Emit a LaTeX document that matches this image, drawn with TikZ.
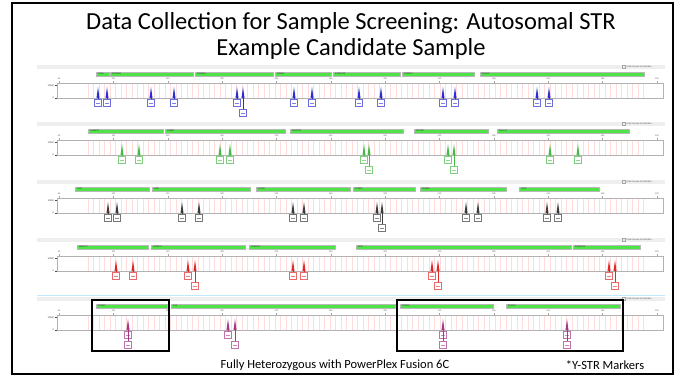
\documentclass[tikz,border=0pt]{standalone}
\usepackage{fontspec}
\setmainfont{Carlito}
\definecolor{barg}{RGB}{78,228,72}
\definecolor{dyeB}{RGB}{45,45,205}
\definecolor{dyeG}{RGB}{70,185,70}
\definecolor{dyeK}{RGB}{60,60,60}
\definecolor{dyeR}{RGB}{225,40,40}
\definecolor{dyeP}{RGB}{165,55,135}
\tikzset{
  tinyf/.style={font=\fontsize{2.4}{2.8}\selectfont, inner sep=0pt},
  gbar/.style={fill=barg, draw=gray!55, line width=0.3pt},
  plotbox/.style={draw=gray!60, fill=white, line width=0.4pt},
  binline/.style={red!14, line width=0.3pt},
  lab/.style={draw=#1, fill=white, line width=0.6pt, minimum width=7.5pt, minimum height=7.5pt, inner sep=0pt},
  hilite/.style={draw=black, line width=1.8pt},
}
\newcommand\epanel[4]{% #1 = top y, #2 = dye, #3 = bars a/b/name, #4 = peaks x/level/drawpeak
  \begin{scope}[shift={(0,#1)}]
    \fill[gray!13] (37,0) rectangle (665,4);
    \draw[gray!70, line width=0.3pt] (622,0.5) rectangle (625,3.5);
    \node[tinyf, anchor=west, text=gray!70!black] (chk#1) at (626.5,2) {Mark Sample for Deletion};
    \foreach \a/\b/\n [count=\k] in {#3} {
      \draw[gbar] (\a,7) rectangle (\b,11);
      \node[tinyf, anchor=west, text=black!80] (bar#1-\k) at (\a+2,9) {\n};
    }
    \draw[plotbox] (57,18) rectangle (663,33);
    \foreach \x in {88,93.5,...,645} { \draw[binline] (\x,18.5) -- (\x,32.5); }
    \foreach \i [count=\k] in {0,...,11} {
      \pgfmathsetmacro\sx{59+54.36*\i}
      \pgfmathtruncatemacro\sv{60+40*\i}
      \draw[gray!70, line width=0.3pt] (\sx,16) -- (\sx,18);
      \node[tinyf, text=gray!80!black] (sc#1-\k) at (\sx,13.5) {\sv};
    }
    \draw[black!70, line width=0.4pt] (57,20) -- (54.5,20) (57,33) -- (54.5,33);
    \node[tinyf, anchor=east, text=black!80] (ya#1) at (54,20.5) {10000};
    \node[tinyf, anchor=east, text=black!80] (yb#1) at (54,33) {0};
    \foreach \x/\l/\p [count=\k] in {#4} {
      \ifnum\p=1
        \fill[#2] (\x-1.5,33) -- (\x,22) -- (\x+1.5,33) -- cycle;
      \fi
      \draw[#2, line width=0.5pt] (\x,33) -- (\x,{34+10*(\l-1)});
      \node[lab=#2!70] (pk#1-\k) at (\x,{38+10*(\l-1)}) {\color{#2!60}\rule{4pt}{0.7pt}};
    }
  \end{scope}
}
\begin{document}
\begin{tikzpicture}[x=1pt,y=-1pt]
\useasboundingbox (0,0) rectangle (685,376);
\fill[white] (0,0) rectangle (685,376);
\draw[line width=2pt] (12,3) rectangle (673,374);
\node[font=\fontsize{24.5}{26}\selectfont, align=center, inner sep=0pt] (title) at (351,36)
  {Data Collection for Sample Screening: Autosomal STR\\Example Candidate Sample};

\epanel{65}{dyeB}{96/109/AMEL,110/193/D3S1358,195/273/D1S1656,275/331/D2S441,333/400/D10S1248,402/474/D13S317,480/644/Penta E}
  {98/1/1,107/1/1,151/1/1,174/1/1,237/1/1,243/2/1,294/1/1,312/1/1,359/1/1,381/1/1,443/1/1,455/1/1,537/1/1,549/1/1}
\epanel{122}{dyeG}{88/163/D16S539,165/285/D18S51,290/403/D2S1338,414/488/CSF1PO,497/629/Penta D}
  {122/1/1,139/1/1,220/1/1,230/1/1,364/1/1,369/2/1,448/1/1,454/2/1,550/1/1,578/1/1}
\epanel{180}{dyeK}{75/149/TH01,152/250/vWA,256/350/D21S11,353/415/D7S820,420/506/D5S818,519/599/TPOX}
  {108/1/1,117/1/1,182/1/1,199/1/1,293/1/1,304/1/1,377/1/1,382/2/1,466/1/1,478/1/1,547/1/1,558/1/1}
\epanel{238}{dyeR}{77/148/D8S1179,151/245/D12S391,249/335/D19S433,356/571/SE33,573/640/D22S1045}
  {116/1/1,133/1/1,188/1/1,195/2/1,293/1/1,304/1/1,432/1/1,438/2/1,609/1/1,615/2/1}
\draw[cyan!25, line width=0.6pt] (37,295) -- (665,295);
\epanel{297}{dyeP}{96/167/DYS391,171/395/FGA,400/493/DYS576,506/620/DYS570}
  {128/1/1,128/2/0,228/1/1,235/2/1,443/1/1,443/2/0,567/1/1,567/2/0}

\draw[hilite] (92,300) rectangle (169,351);
\draw[hilite] (397,300) rectangle (623,351);

\node[font=\fontsize{12.5}{14}\selectfont, inner sep=0pt] (note) at (335,365) {Fully Heterozygous with PowerPlex Fusion 6C};
\node[font=\fontsize{12.5}{14}\selectfont, inner sep=0pt] (ystr) at (605,365) {*Y-STR Markers};
\end{tikzpicture}
\end{document}
